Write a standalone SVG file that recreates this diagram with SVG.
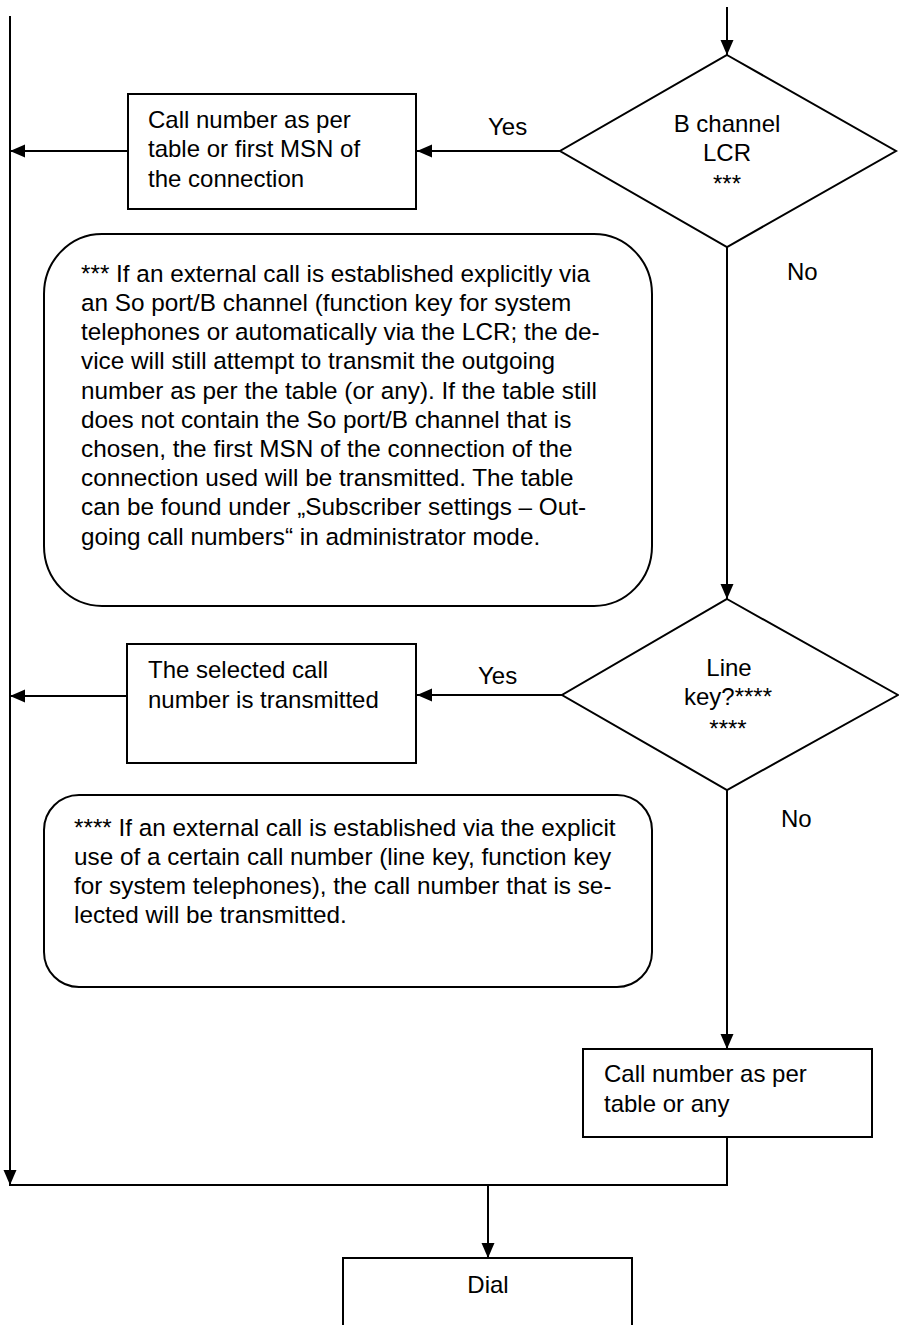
<svg xmlns="http://www.w3.org/2000/svg" width="899" height="1325" viewBox="0 0 899 1325">
<defs>
<style>
.shape{fill:#fff;stroke:#000;stroke-width:2}
.line{fill:none;stroke:#000;stroke-width:2}
text{font-family:"Liberation Sans",Arial,sans-serif;font-size:24px;fill:#000}
.note text{font-size:24.3px}
.mid{text-anchor:middle}
</style>
<marker id="arr" markerUnits="userSpaceOnUse" markerWidth="16" markerHeight="14" refX="15" refY="6.5" orient="auto">
<path d="M0,0 L15,6.5 L0,13 z" fill="#000"/>
</marker>
</defs>
<g id="connectors">
<line class="line" x1="727" y1="7" x2="727" y2="55" marker-end="url(#arr)"/>
<line class="line" x1="560" y1="151" x2="417" y2="151" marker-end="url(#arr)"/>
<line class="line" x1="128" y1="151" x2="10" y2="151" marker-end="url(#arr)"/>
<line class="line" x1="727" y1="247" x2="727" y2="599" marker-end="url(#arr)"/>
<line class="line" x1="562" y1="695" x2="417" y2="695" marker-end="url(#arr)"/>
<line class="line" x1="127" y1="696" x2="10" y2="696" marker-end="url(#arr)"/>
<line class="line" x1="727" y1="790" x2="727" y2="1049" marker-end="url(#arr)"/>
<line class="line" x1="10" y1="16" x2="10" y2="1185" marker-end="url(#arr)"/>
<polyline class="line" points="727,1137 727,1185 9,1185"/>
<line class="line" x1="488" y1="1185" x2="488" y2="1258" marker-end="url(#arr)"/>
<text x="488" y="135">Yes</text>
<text x="787" y="280">No</text>
<text x="478" y="684">Yes</text>
<text x="781" y="827">No</text>
</g>
<g id="decision1">
<polygon class="shape" points="727,55 896,151 727,247 560,151"/>
<text class="mid" x="727" y="132">B channel</text>
<text class="mid" x="727" y="161">LCR</text>
<text class="mid" x="727" y="192">***</text>
</g>
<g id="box1">
<rect class="shape" x="128" y="94" width="288" height="115"/>
<text x="148" y="128">Call number as per</text>
<text x="148" y="157">table or first MSN of</text>
<text x="148" y="187">the connection</text>
</g>
<g id="note1" class="note">
<rect class="shape" x="44" y="234" width="608" height="372" rx="58" ry="60"/>
<text x="81" y="282">*** If an external call is established explicitly via</text>
<text x="81" y="311">an So port/B channel (function key for system</text>
<text x="81" y="340">telephones or automatically via the LCR; the de-</text>
<text x="81" y="369">vice will still attempt to transmit the outgoing</text>
<text x="81" y="399">number as per the table (or any). If the table still</text>
<text x="81" y="428">does not contain the So port/B channel that is</text>
<text x="81" y="457">chosen, the first MSN of the connection of the</text>
<text x="81" y="486">connection used will be transmitted. The table</text>
<text x="81" y="515">can be found under „Subscriber settings – Out-</text>
<text x="81" y="545">going call numbers“ in administrator mode.</text>
</g>
<g id="decision2">
<polygon class="shape" points="727,599 898,695 727,790 562,695"/>
<text class="mid" x="729" y="676">Line</text>
<text class="mid" x="728" y="705">key?****</text>
<text class="mid" x="728" y="737">****</text>
</g>
<g id="box2">
<rect class="shape" x="127" y="644" width="289" height="119"/>
<text x="148" y="678">The selected call</text>
<text x="148" y="708">number is transmitted</text>
</g>
<g id="note2" class="note">
<rect class="shape" x="44" y="795" width="608" height="192" rx="35" ry="35"/>
<text x="74" y="836">**** If an external call is established via the explicit</text>
<text x="74" y="865">use of a certain call number (line key, function key</text>
<text x="74" y="894">for system telephones), the call number that is se-</text>
<text x="74" y="923">lected will be transmitted.</text>
</g>
<g id="box3">
<rect class="shape" x="583" y="1049" width="289" height="88"/>
<text x="604" y="1082">Call number as per</text>
<text x="604" y="1112">table or any</text>
</g>
<g id="dial">
<rect class="shape" x="343" y="1258" width="289" height="100"/>
<text class="mid" x="488" y="1293">Dial</text>
</g>
</svg>
